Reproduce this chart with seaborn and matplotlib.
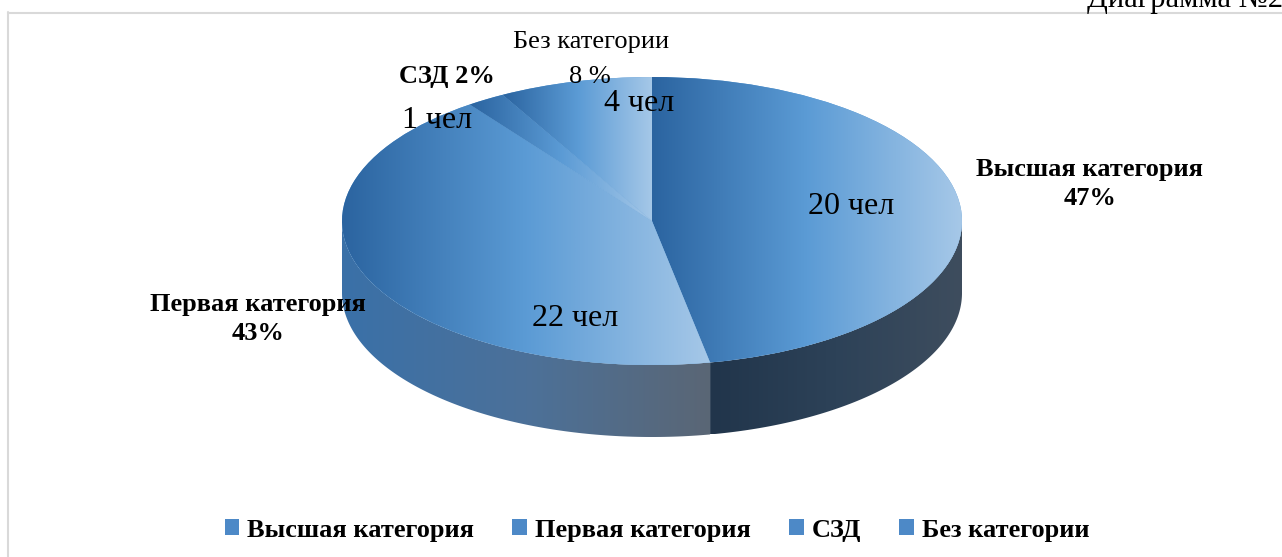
import numpy as np
import matplotlib
matplotlib.use('Agg')
import matplotlib.pyplot as plt
from matplotlib.patches import Polygon, Patch
from matplotlib.lines import Line2D
import seaborn as sns

# data
categories = ['Высшая категория', 'Первая категория', 'СЗД', 'Без категории']
shares = [47, 43, 2, 8]
people_labels = ['20 чел', '22 чел', '1 чел', '4 чел']
pct_labels = ['47%', '43%', '2%', '8 %']

W, H = 1282, 557
CX, CY, RX, RY = 652, 221, 310, 144   # pie centre / radii in pixels
DEPTH = 0.5                            # wall height in pie units

sns.set_style('white')
plt.rcParams['font.family'] = ['Liberation Serif', 'DejaVu Serif']
plt.rcParams['text.color'] = 'black'

fig = plt.figure(figsize=(W / 100, H / 100), dpi=100)
ax = fig.add_axes([0, 0, 1, 1])

top_cmap = sns.blend_palette(['#2b64a0', '#5b9bd5', '#a6c8e8'], as_cmap=True)
wall_cmaps = [sns.blend_palette(['#21354b', '#2d4258', '#3e4d5e'], as_cmap=True),
              sns.blend_palette(['#3a70a8', '#4c7199', '#5a6675'], as_cmap=True)]

wedges, _ = ax.pie(shares, startangle=90, counterclock=False,
                   colors=['#5b9bd5'] * len(shares),
                   wedgeprops=dict(linewidth=0))
grad = np.linspace(0, 1, 256).reshape(1, -1)


def gradient_fill(patch, cmap, zorder):
    ext = patch.get_path().get_extents()
    im = ax.imshow(grad, cmap=cmap, aspect='auto', zorder=zorder,
                   extent=[ext.x0, ext.x1, ext.y0, ext.y1], interpolation='bilinear')
    im.set_clip_path(patch)


# side walls (front half only)
for i, w in enumerate(wedges):
    t1, t2 = w.theta1, w.theta2
    for lo, hi in [(-180, 0), (180, 360)]:
        a, b = max(t1, lo), min(t2, hi)
        if b <= a:
            continue
        t = np.radians(np.linspace(a, b, 120))
        top = np.column_stack([np.cos(t), np.sin(t)])
        bot = np.column_stack([np.cos(t), np.sin(t) - DEPTH])[::-1]
        poly = Polygon(np.vstack([top, bot]), closed=True, facecolor='none',
                       edgecolor='none')
        ax.add_patch(poly)
        gradient_fill(poly, wall_cmaps[i % 2], 1)

# top faces
for w in wedges:
    w.set_zorder(2)
    gradient_fill(w, top_cmap, 2)

ax.set_aspect('auto')
ax.set_xlim(-CX / RX, (W - CX) / RX)
ax.set_ylim((CY - H) / RY, CY / RY)
ax.axis('off')


def ptext(x, y, s, **kw):
    fig.text(x / W, 1 - y / H, s, ha='center', va='center', **kw)


# category labels
ptext(1090, 184, categories[0] + '\n' + pct_labels[0], size=19, weight='bold', linespacing=1.3)
ptext(258, 319, categories[1] + '\n' + pct_labels[1], size=19, weight='bold', linespacing=1.3)
ptext(447, 77, categories[2] + ' ' + pct_labels[2], size=19, weight='bold')
ptext(591, 42, categories[3], size=19)
ptext(590, 77, pct_labels[3], size=19)

# count labels
ptext(851, 207, people_labels[0], size=23)
ptext(575, 318, people_labels[1], size=23)
ptext(437, 120, people_labels[2], size=23)
ptext(639, 104, people_labels[3], size=23)

# legend
handles = [Patch(facecolor='#4d89c7', edgecolor='none') for _ in categories]
fig.legend(handles, categories, loc='center', bbox_to_anchor=(657 / W, 1 - 530 / H),
           ncol=4, frameon=False, prop=dict(weight='bold', size=19),
           handlelength=0.55, handleheight=0.55, handletextpad=0.3, columnspacing=1.45)

# frame and caption
fig.add_artist(Line2D([8 / W, 1], [1 - 12.5 / H] * 2, color='#d9d9d9', lw=1.5))
fig.add_artist(Line2D([8 / W] * 2, [1 - 12 / H, 0], color='#d9d9d9', lw=1.5))
fig.text(1087 / W, 1 - 7 / H, 'Диаграмма №2', ha='left', va='baseline', size=22)

fig.savefig('out.png', dpi=100)
